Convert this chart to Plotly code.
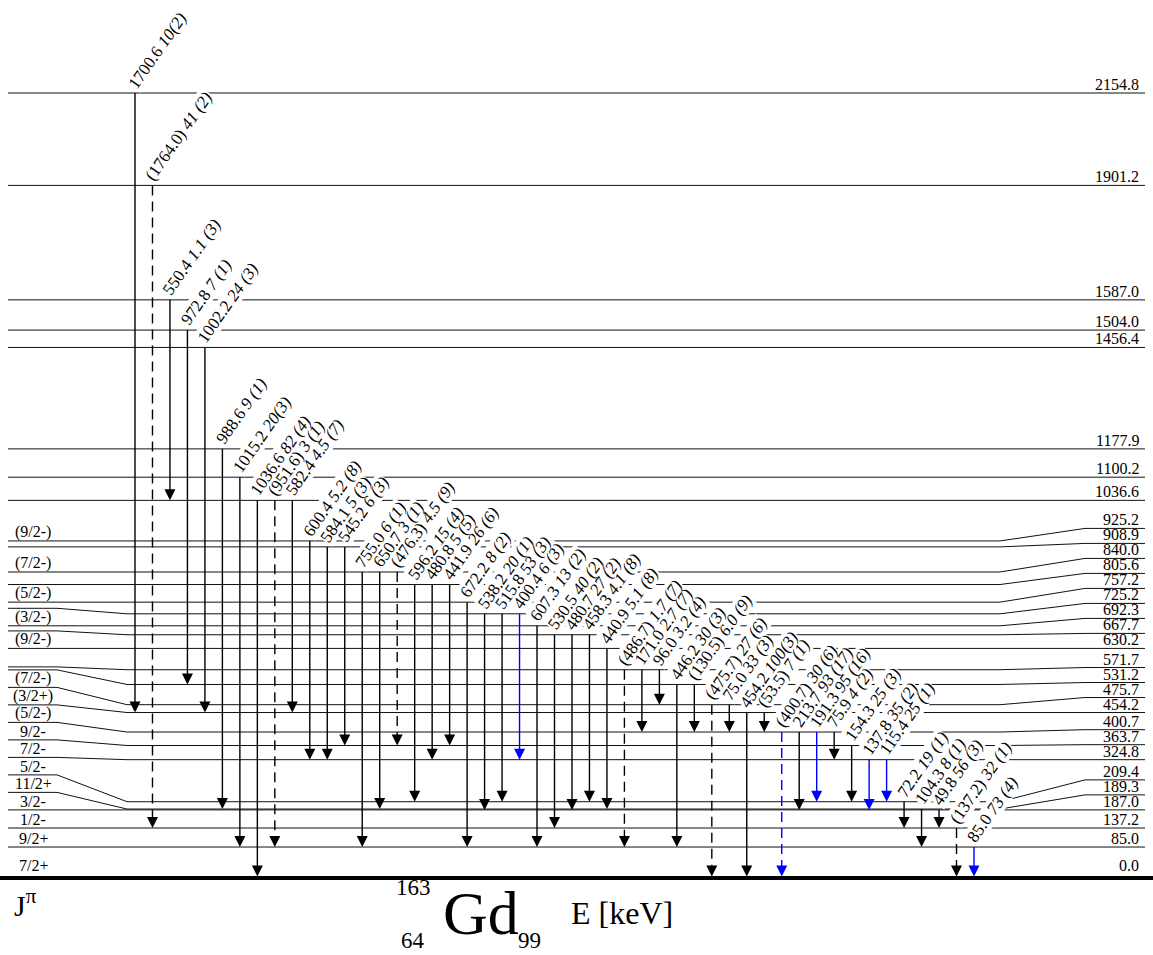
import plotly.graph_objects as go
import numpy as np

# ---------------- data ----------------
level_energy = [0.0, 85.0, 137.2, 187.0, 189.3, 209.4, 324.8, 363.7, 400.7, 454.2,
                475.7, 531.2, 571.7, 630.2, 667.7, 692.3, 725.2, 757.2, 805.6, 840.0,
                908.9, 925.2, 1036.6, 1100.2, 1177.9, 1456.4, 1504.0, 1587.0, 1901.2, 2154.8]
level_spin = ["7/2+", "9/2+", "1/2-", "3/2-", "11/2+", "5/2-", "7/2-", "9/2-", "(5/2-)", "(3/2+)",
              "(7/2-)", "", "", "(9/2-)", "", "(3/2-)", "", "(5/2-)", "", "(7/2-)",
              "", "(9/2-)", "", "", "", "", "", "", "", ""]

gamma_label = ["1700.6", "(1764.0)", "550.4", "972.8", "1002.2", "988.6", "1015.2", "1036.6",
               "(951.6)", "582.4", "600.4", "584.1", "545.2", "755.0", "650.7", "(476.3)",
               "596.2", "480.8", "441.9", "672.2", "538.2", "515.8", "400.4", "607.3",
               "530.5", "480.7", "458.3", "440.9", "(486.7)", "171.0", "96.0", "446.2",
               "(130.5)", "(475.7)", "75.0", "454.2", "(53.5)", "(400.7)", "213.7", "191.3",
               "75.9", "154.3", "137.8", "115.4", "72.2", "104.3", "49.8", "(137.2)", "85.0"]
gamma_intensity = ["10(2)", "41 (2)", "1.1 (3)", "7 (1)", "24 (3)", "9 (1)", "20(3)", "82 (4)",
                   "3 (1)", "4.5 (7)", "5.2 (8)", "5 (3)", "6 (3)", "6 (1)", "3 (1)", "4.5 (9)",
                   "15 (4)", "5 (5)", "26 (6)", "8 (2)", "20 (1)", "53 (3)", "6 (3)", "13 (2)",
                   "40 (2)", "27 (2)", "4.1 (8)", "5.1 (8)", "1.7 (7)", "2.7 (7)", "3.2 (4)", "30 (3)",
                   "6.0 (9)", "27 (6)", "33 (3)", "100(3)", "7 (1)", "30 (6)", "93 (17)", "95 (16)",
                   "4 (2)", "25 (3)", "35 (2)", "25 (1)", "19 (1)", "8 (1)", "56 (3)", "32 (1)", "73 (4)"]
gamma_from = [2154.8, 1901.2, 1587.0, 1504.0, 1456.4, 1177.9, 1100.2, 1036.6,
              1036.6, 1036.6, 925.2, 908.9, 908.9, 840.0, 840.0, 840.0,
              805.6, 805.6, 805.6, 757.2, 725.2, 725.2, 725.2, 692.3,
              667.7, 667.7, 667.7, 630.2, 571.7, 571.7, 571.7, 531.2,
              531.2, 475.7, 475.7, 454.2, 454.2, 400.7, 400.7, 400.7,
              400.7, 363.7, 324.8, 324.8, 209.4, 189.3, 187.0, 137.2, 85.0]
gamma_to = [454.2, 137.2, 1036.6, 531.2, 454.2, 189.3, 85.0, 0.0,
            85.0, 454.2, 324.8, 324.8, 363.7, 85.0, 189.3, 363.7,
            209.4, 324.8, 363.7, 85.0, 187.0, 209.4, 324.8, 85.0,
            137.2, 187.0, 209.4, 189.3, 85.0, 400.7, 475.7, 85.0,
            400.7, 0.0, 400.7, 0.0, 400.7, 0.0, 187.0, 209.4,
            324.8, 209.4, 187.0, 209.4, 137.2, 85.0, 137.2, 0.0, 0.0]
gamma_new = [0, 0, 0, 0, 0, 0, 0, 0, 0, 0, 0, 0, 0, 0, 0, 0,
             0, 0, 0, 0, 0, 0, 1, 0, 0, 0, 0, 0, 0, 0, 0, 0,
             0, 0, 0, 0, 0, 1, 0, 1, 0, 0, 1, 1, 0, 0, 0, 0, 1]
gamma_tentative = [0, 1, 0, 0, 0, 0, 0, 0, 1, 0, 0, 0, 0, 0, 0, 1,
                   0, 0, 0, 0, 0, 0, 0, 0, 0, 0, 0, 0, 1, 0, 0, 0,
                   0, 1, 0, 0, 0, 1, 0, 0, 0, 0, 0, 0, 0, 0, 0, 1, 0]

# ---------------- geometry ----------------
W, H = 1153, 955
PX = 0.3643          # pixels per keV
Y0 = 878             # pixel row of the ground state


def px2e(p):
    return (Y0 - p) / PX


FONT = "Liberation Serif"
BLUE = "#0000ff"
n_g = len(gamma_label)
gx = np.linspace(135, 974, n_g)

# label placement (bottom-up spreading)
sepR = 15 / PX
sepL = 17.5 / PX
smallL = 3 / PX
labR = [level_energy[0]]
labL = [level_energy[0]]
for i in range(1, len(level_energy)):
    labR.append(max(level_energy[i], labR[-1] + sepR))
    labL.append(max(level_energy[i], labL[-1] + (sepL if level_spin[i - 1] else smallL)))

fig = go.Figure()

# level lines
lx, ly = [], []
for i, E in enumerate(level_energy):
    if i == 0:
        continue
    lx += [8, 57, 127, 1000, 1085, 1145, None]
    ly += [labL[i], labL[i], E, E, labR[i], labR[i], None]
fig.add_trace(go.Scatter(x=lx, y=ly, mode="lines", line=dict(color="#111", width=1),
                         hoverinfo="skip", showlegend=False))
fig.add_trace(go.Scatter(x=[0, W], y=[0, 0], mode="lines", line=dict(color="black", width=4),
                         hoverinfo="skip", showlegend=False))

# transitions
head_h = 11 / PX
head_w = 5.5
groups = {}
for i in range(n_g):
    key = (gamma_new[i], gamma_tentative[i])
    gxs, gys = groups.setdefault(key, ([], []))
    gxs += [gx[i], gx[i], None]
    gys += [gamma_from[i], gamma_to[i] + head_h * 0.6, None]
for (new, tent), (xs, ys) in groups.items():
    fig.add_trace(go.Scatter(x=xs, y=ys, mode="lines",
                             line=dict(color=BLUE if new else "black", width=1.4,
                                       dash="10px,6px" if tent else "solid"),
                             hoverinfo="skip", showlegend=False))

shapes = []
for i in range(n_g):
    c = BLUE if gamma_new[i] else "black"
    x = gx[i]
    yt = gamma_to[i] + (1.5 / PX if gamma_to[i] == 0 else 0)
    yb = yt + head_h
    shapes.append(dict(type="path", xref="x", yref="y",
                       path=f"M {x - head_w},{yb} L {x + head_w},{yb} L {x},{yt} Z",
                       fillcolor=c, line=dict(width=0), layer="above"))

annotations = []
# transition labels: white masks first, then the text on top
ANG = -55
for pass_ in (0, 1):
    for i in range(n_g):
        txt = f"{gamma_label[i]} <i>{gamma_intensity[i]}</i>"
        annotations.append(dict(
            x=gx[i], y=gamma_from[i], xref="x", yref="y", text=txt, showarrow=False,
            textangle=ANG, xanchor="left", yanchor="bottom", xshift=-12, yshift=0,
            font=dict(family=FONT, size=17, color="black" if pass_ else "white"),
            bgcolor="white" if pass_ == 0 else "rgba(0,0,0,0)", borderpad=0))

# level energy labels (right)
for i, E in enumerate(level_energy):
    annotations.append(dict(x=1141, y=labR[i], xref="x", yref="y", text=f"{E:.1f}",
                            showarrow=False, xanchor="right", yanchor="bottom",
                            yshift=2 if i == 0 else -2,
                            font=dict(family=FONT, size=16, color="black")))
# spin labels (left)
for i, s in enumerate(level_spin):
    if s:
        annotations.append(dict(x=33, y=labL[i], xref="x", yref="y", text=s,
                                showarrow=False, xanchor="center", yanchor="bottom",
                                yshift=2 if i == 0 else -2,
                                font=dict(family=FONT, size=16, color="black")))

# titles
annotations += [
    dict(x=12, y=px2e(903), xref="x", yref="y", text="J<sup>π</sup>", showarrow=False,
         xanchor="left", yanchor="middle", font=dict(family=FONT, size=30, color="black")),
    dict(x=413, y=px2e(887), xref="x", yref="y", text="163", showarrow=False,
         xanchor="center", yanchor="middle", font=dict(family=FONT, size=23, color="black")),
    dict(x=413, y=px2e(940), xref="x", yref="y", text="64", showarrow=False,
         xanchor="center", yanchor="middle", font=dict(family=FONT, size=23, color="black")),
    dict(x=481, y=px2e(913), xref="x", yref="y", text="Gd", showarrow=False,
         xanchor="center", yanchor="middle", font=dict(family=FONT, size=62, color="black")),
    dict(x=529, y=px2e(940), xref="x", yref="y", text="99", showarrow=False,
         xanchor="center", yanchor="middle", font=dict(family=FONT, size=23, color="black")),
    dict(x=622, y=px2e(913), xref="x", yref="y", text="E [keV]", showarrow=False,
         xanchor="center", yanchor="middle", font=dict(family=FONT, size=32, color="black")),
]

fig.update_layout(
    width=W, height=H, margin=dict(l=0, r=0, t=0, b=0),
    paper_bgcolor="white", plot_bgcolor="white",
    xaxis=dict(range=[0, W], visible=False, fixedrange=True),
    yaxis=dict(range=[px2e(H), px2e(0)], visible=False, fixedrange=True),
    shapes=shapes, annotations=annotations, showlegend=False,
)
fig.write_html("out.html", config={"displayModeBar": False})
